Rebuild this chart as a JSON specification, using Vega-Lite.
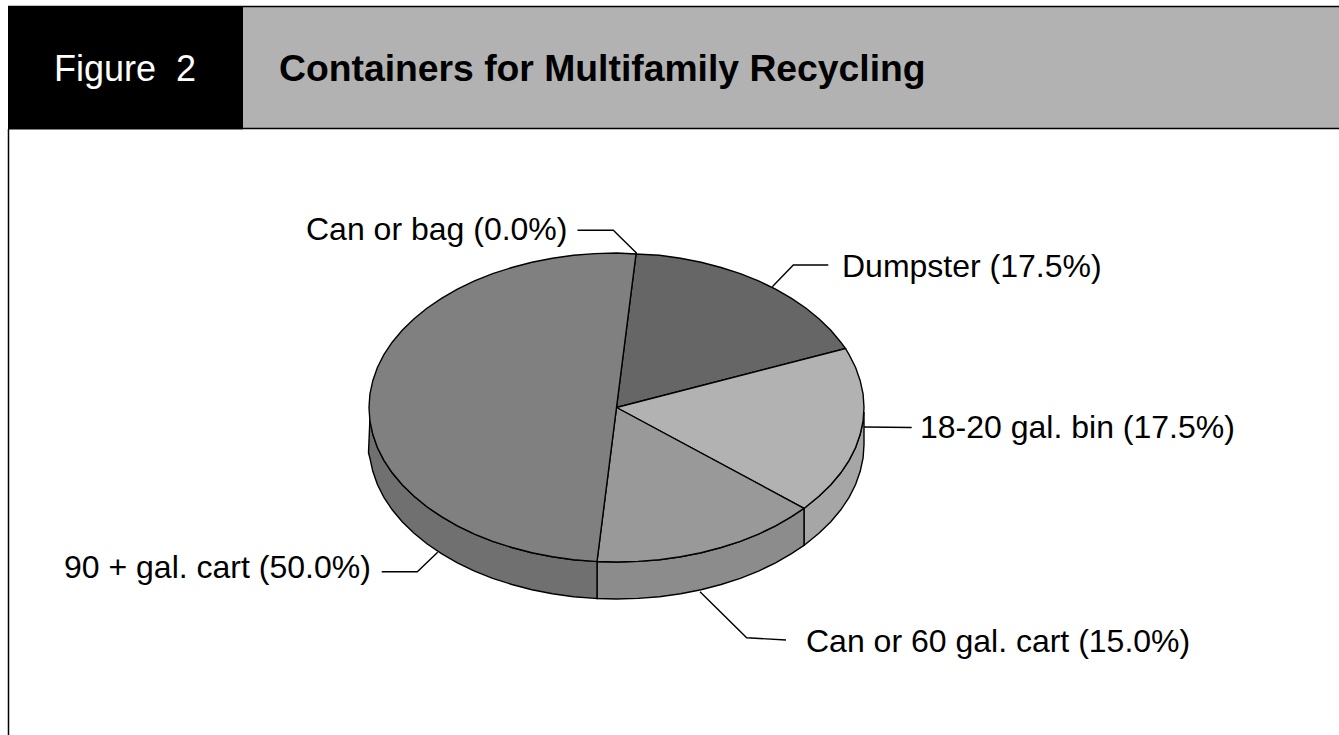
{"$schema":"https://vega.github.io/schema/vega-lite/v6.json","width":1339,"height":735,"autosize":{"type":"none"},"padding":0,"background":"white","view":{"stroke":null},
"datasets":{
"header":[{"part":"figure","x":8,"x2":243,"y":6,"y2":129.5},{"part":"title","x":243,"x2":1339,"y":7,"y2":128}],
"frame":[{"id":"top","x":8,"y":6.5},{"id":"top","x":1339,"y":6.5},{"id":"bottom","x":243,"y":128.5},{"id":"bottom","x":1339,"y":128.5},{"id":"left","x":8.5,"y":129},{"id":"left","x":8.5,"y":735}],
"sides":[
{"part":"bin side","x":864,"y":412},{"part":"bin side","x":863.1,"y":421},{"part":"bin side","x":860.2,"y":434.3},{"part":"bin side","x":855.6,"y":447.5},{"part":"bin side","x":849.1,"y":460.3},{"part":"bin side","x":840.8,"y":472.8},{"part":"bin side","x":830.8,"y":484.8},{"part":"bin side","x":819.2,"y":496.1},{"part":"bin side","x":806.1,"y":506.8},{"part":"bin side","x":804,"y":508.3},{"part":"bin side","x":804,"y":545.3},{"part":"bin side","x":806.1,"y":543.8},{"part":"bin side","x":819.2,"y":533.1},{"part":"bin side","x":830.8,"y":521.8},{"part":"bin side","x":840.8,"y":509.8},{"part":"bin side","x":849.1,"y":497.3},{"part":"bin side","x":855.6,"y":484.5},{"part":"bin side","x":860.2,"y":471.3},{"part":"bin side","x":863.1,"y":458},{"part":"bin side","x":864,"y":444.5},{"part":"bin side","x":864,"y":412},
{"part":"can side","x":804,"y":508.3},{"part":"can side","x":791.5,"y":516.7},{"part":"can side","x":775.6,"y":525.8},{"part":"can side","x":758.5,"y":534.1},{"part":"can side","x":740.3,"y":541.3},{"part":"can side","x":721.1,"y":547.5},{"part":"can side","x":701.1,"y":552.7},{"part":"can side","x":680.6,"y":556.7},{"part":"can side","x":659.5,"y":559.7},{"part":"can side","x":638.1,"y":561.4},{"part":"can side","x":616.5,"y":562},{"part":"can side","x":597,"y":561.5},{"part":"can side","x":597,"y":598.5},{"part":"can side","x":616.5,"y":599},{"part":"can side","x":638.1,"y":598.4},{"part":"can side","x":659.5,"y":596.7},{"part":"can side","x":680.6,"y":593.7},{"part":"can side","x":701.1,"y":589.7},{"part":"can side","x":721.1,"y":584.5},{"part":"can side","x":740.3,"y":578.3},{"part":"can side","x":758.5,"y":571.1},{"part":"can side","x":775.6,"y":562.8},{"part":"can side","x":791.5,"y":553.7},{"part":"can side","x":804,"y":545.3},{"part":"can side","x":804,"y":508.3},
{"part":"cart side","x":597,"y":561.5},{"part":"cart side","x":594.9,"y":561.4},{"part":"cart side","x":573.5,"y":559.7},{"part":"cart side","x":552.4,"y":556.7},{"part":"cart side","x":531.9,"y":552.7},{"part":"cart side","x":511.9,"y":547.5},{"part":"cart side","x":492.7,"y":541.3},{"part":"cart side","x":474.5,"y":534.1},{"part":"cart side","x":457.4,"y":525.8},{"part":"cart side","x":441.5,"y":516.7},{"part":"cart side","x":426.9,"y":506.8},{"part":"cart side","x":413.8,"y":496.1},{"part":"cart side","x":402.2,"y":484.8},{"part":"cart side","x":392.2,"y":472.8},{"part":"cart side","x":383.9,"y":460.3},{"part":"cart side","x":377.4,"y":447.5},{"part":"cart side","x":372.8,"y":434.3},{"part":"cart side","x":370,"y":417},{"part":"cart side","x":368.5,"y":453},{"part":"cart side","x":369.9,"y":458},{"part":"cart side","x":372.8,"y":471.3},{"part":"cart side","x":377.4,"y":484.5},{"part":"cart side","x":383.9,"y":497.3},{"part":"cart side","x":392.2,"y":509.8},{"part":"cart side","x":402.2,"y":521.8},{"part":"cart side","x":413.8,"y":533.1},{"part":"cart side","x":426.9,"y":543.8},{"part":"cart side","x":441.5,"y":553.7},{"part":"cart side","x":457.4,"y":562.8},{"part":"cart side","x":474.5,"y":571.1},{"part":"cart side","x":492.7,"y":578.3},{"part":"cart side","x":511.9,"y":584.5},{"part":"cart side","x":531.9,"y":589.7},{"part":"cart side","x":552.4,"y":593.7},{"part":"cart side","x":573.5,"y":596.7},{"part":"cart side","x":594.9,"y":598.4},{"part":"cart side","x":597,"y":598.5},{"part":"cart side","x":597,"y":561.5}
],
"tops":[
{"part":"Dumpster","x":616.5,"y":407.5},{"part":"Dumpster","x":636,"y":254},{"part":"Dumpster","x":659.5,"y":255.3},{"part":"Dumpster","x":680.6,"y":258.3},{"part":"Dumpster","x":701.1,"y":262.3},{"part":"Dumpster","x":721.1,"y":267.5},{"part":"Dumpster","x":740.3,"y":273.7},{"part":"Dumpster","x":758.5,"y":280.9},{"part":"Dumpster","x":775.6,"y":289.2},{"part":"Dumpster","x":791.5,"y":298.3},{"part":"Dumpster","x":806.1,"y":308.2},{"part":"Dumpster","x":819.2,"y":318.9},{"part":"Dumpster","x":830.8,"y":330.2},{"part":"Dumpster","x":840.8,"y":342.2},{"part":"Dumpster","x":845.5,"y":348.5},{"part":"Dumpster","x":616.5,"y":407.5},
{"part":"18-20 gal. bin","x":616.5,"y":407.5},{"part":"18-20 gal. bin","x":845.5,"y":348.5},{"part":"18-20 gal. bin","x":849.1,"y":354.7},{"part":"18-20 gal. bin","x":855.6,"y":367.5},{"part":"18-20 gal. bin","x":860.2,"y":380.7},{"part":"18-20 gal. bin","x":863.1,"y":394},{"part":"18-20 gal. bin","x":864,"y":407.5},{"part":"18-20 gal. bin","x":863.1,"y":421},{"part":"18-20 gal. bin","x":860.2,"y":434.3},{"part":"18-20 gal. bin","x":855.6,"y":447.5},{"part":"18-20 gal. bin","x":849.1,"y":460.3},{"part":"18-20 gal. bin","x":840.8,"y":472.8},{"part":"18-20 gal. bin","x":830.8,"y":484.8},{"part":"18-20 gal. bin","x":819.2,"y":496.1},{"part":"18-20 gal. bin","x":806.1,"y":506.8},{"part":"18-20 gal. bin","x":804,"y":508.3},{"part":"18-20 gal. bin","x":616.5,"y":407.5},
{"part":"Can or 60 gal. cart","x":616.5,"y":407.5},{"part":"Can or 60 gal. cart","x":804,"y":508.3},{"part":"Can or 60 gal. cart","x":791.5,"y":516.7},{"part":"Can or 60 gal. cart","x":775.6,"y":525.8},{"part":"Can or 60 gal. cart","x":758.5,"y":534.1},{"part":"Can or 60 gal. cart","x":740.3,"y":541.3},{"part":"Can or 60 gal. cart","x":721.1,"y":547.5},{"part":"Can or 60 gal. cart","x":701.1,"y":552.7},{"part":"Can or 60 gal. cart","x":680.6,"y":556.7},{"part":"Can or 60 gal. cart","x":659.5,"y":559.7},{"part":"Can or 60 gal. cart","x":638.1,"y":561.4},{"part":"Can or 60 gal. cart","x":616.5,"y":562},{"part":"Can or 60 gal. cart","x":597,"y":561.5},{"part":"Can or 60 gal. cart","x":616.5,"y":407.5},
{"part":"90 + gal. cart","x":616.5,"y":407.5},{"part":"90 + gal. cart","x":597,"y":561.5},{"part":"90 + gal. cart","x":594.9,"y":561.4},{"part":"90 + gal. cart","x":573.5,"y":559.7},{"part":"90 + gal. cart","x":552.4,"y":556.7},{"part":"90 + gal. cart","x":531.9,"y":552.7},{"part":"90 + gal. cart","x":511.9,"y":547.5},{"part":"90 + gal. cart","x":492.7,"y":541.3},{"part":"90 + gal. cart","x":474.5,"y":534.1},{"part":"90 + gal. cart","x":457.4,"y":525.8},{"part":"90 + gal. cart","x":441.5,"y":516.7},{"part":"90 + gal. cart","x":426.9,"y":506.8},{"part":"90 + gal. cart","x":413.8,"y":496.1},{"part":"90 + gal. cart","x":402.2,"y":484.8},{"part":"90 + gal. cart","x":392.2,"y":472.8},{"part":"90 + gal. cart","x":383.9,"y":460.3},{"part":"90 + gal. cart","x":377.4,"y":447.5},{"part":"90 + gal. cart","x":372.8,"y":434.3},{"part":"90 + gal. cart","x":369.9,"y":421},{"part":"90 + gal. cart","x":369,"y":407.5},{"part":"90 + gal. cart","x":369.9,"y":394},{"part":"90 + gal. cart","x":372.8,"y":380.7},{"part":"90 + gal. cart","x":377.4,"y":367.5},{"part":"90 + gal. cart","x":383.9,"y":354.7},{"part":"90 + gal. cart","x":392.2,"y":342.2},{"part":"90 + gal. cart","x":402.2,"y":330.2},{"part":"90 + gal. cart","x":413.8,"y":318.9},{"part":"90 + gal. cart","x":426.9,"y":308.2},{"part":"90 + gal. cart","x":441.5,"y":298.3},{"part":"90 + gal. cart","x":457.4,"y":289.2},{"part":"90 + gal. cart","x":474.5,"y":280.9},{"part":"90 + gal. cart","x":492.7,"y":273.7},{"part":"90 + gal. cart","x":511.9,"y":267.5},{"part":"90 + gal. cart","x":531.9,"y":262.3},{"part":"90 + gal. cart","x":552.4,"y":258.3},{"part":"90 + gal. cart","x":573.5,"y":255.3},{"part":"90 + gal. cart","x":594.9,"y":253.6},{"part":"90 + gal. cart","x":616.5,"y":253},{"part":"90 + gal. cart","x":636,"y":254},{"part":"90 + gal. cart","x":616.5,"y":407.5}
],
"leaders":[
{"id":"bag","x":577.5,"y":230.3},{"id":"bag","x":613.3,"y":230.3},{"id":"bag","x":636.7,"y":253.3},
{"id":"dumpster","x":828.3,"y":265},{"id":"dumpster","x":793.3,"y":265},{"id":"dumpster","x":772.3,"y":286.7},
{"id":"bin","x":911.7,"y":427.5},{"id":"bin","x":864,"y":427},
{"id":"can","x":786,"y":640},{"id":"can","x":746.7,"y":637.7},{"id":"can","x":700,"y":591.7},
{"id":"cart","x":381.7,"y":571.7},{"id":"cart","x":417.3,"y":571.7},{"id":"cart","x":437.7,"y":552.3}
],
"labels":[
{"text":"Can or bag (0.0%)","x":306,"y":240},
{"text":"Dumpster (17.5%)","x":842,"y":277},
{"text":"18-20 gal. bin (17.5%)","x":920,"y":438},
{"text":"Can or 60 gal. cart (15.0%)","x":806,"y":652},
{"text":"90 + gal. cart (50.0%)","x":64,"y":578}
],
"figure":[{"text":"Figure\u00a0\u00a02","x":54,"y":80.5}],
"title":[{"text":"Containers for Multifamily Recycling","x":279,"y":81}]
},
"layer":[
{"data":{"name":"header"},"mark":{"type":"rect"},"encoding":{"x":{"field":"x","type":"quantitative","scale":{"domain":[0,1339],"nice":false,"zero":false},"axis":null},"x2":{"field":"x2"},"y":{"field":"y","type":"quantitative","scale":{"domain":[735,0],"nice":false,"zero":false},"axis":null},"y2":{"field":"y2"},"fill":{"field":"part","type":"nominal","scale":{"domain":["figure","title"],"range":["#000000","#b2b2b2"]},"legend":null}}},
{"data":{"name":"frame"},"mark":{"type":"line","stroke":"#000000","strokeWidth":1.5},"encoding":{"x":{"field":"x","type":"quantitative","scale":{"domain":[0,1339],"nice":false,"zero":false},"axis":null},"y":{"field":"y","type":"quantitative","scale":{"domain":[735,0],"nice":false,"zero":false},"axis":null},"detail":{"field":"id"},"order":{"field":"y"}}},
{"data":{"name":"sides"},"transform":[{"window":[{"op":"row_number","as":"i"}]}],"mark":{"type":"line","stroke":"#000000","strokeWidth":1.4,"fill":"#888888"},"encoding":{"x":{"field":"x","type":"quantitative","axis":null,"scale":{"domain":[0,1339],"nice":false,"zero":false}},"y":{"field":"y","type":"quantitative","axis":null,"scale":{"domain":[735,0],"nice":false,"zero":false}},"detail":{"field":"part"},"order":{"field":"i"},"fill":{"field":"part","type":"nominal","scale":{"domain":["bin side","can side","cart side"],"range":["#a6a6a6","#8c8c8c","#707070"]},"legend":null}}},
{"data":{"name":"tops"},"transform":[{"window":[{"op":"row_number","as":"i"}]}],"mark":{"type":"line","stroke":"#000000","strokeWidth":1.4,"fill":"#888888"},"encoding":{"x":{"field":"x","type":"quantitative","axis":null,"scale":{"domain":[0,1339],"nice":false,"zero":false}},"y":{"field":"y","type":"quantitative","axis":null,"scale":{"domain":[735,0],"nice":false,"zero":false}},"detail":{"field":"part"},"order":{"field":"i"},"fill":{"field":"part","type":"nominal","scale":{"domain":["Dumpster","18-20 gal. bin","Can or 60 gal. cart","90 + gal. cart"],"range":["#666666","#b2b2b2","#999999","#808080"]},"legend":null}}},
{"data":{"name":"leaders"},"transform":[{"window":[{"op":"row_number","as":"i"}]}],"mark":{"type":"line","stroke":"#000000","strokeWidth":1.4},"encoding":{"x":{"field":"x","type":"quantitative","axis":null,"scale":{"domain":[0,1339],"nice":false,"zero":false}},"y":{"field":"y","type":"quantitative","axis":null,"scale":{"domain":[735,0],"nice":false,"zero":false}},"detail":{"field":"id"},"order":{"field":"i"}}},
{"data":{"name":"labels"},"mark":{"type":"text","align":"left","baseline":"alphabetic","font":"Liberation Sans","fontSize":32,"fill":"#000000"},"encoding":{"x":{"field":"x","type":"quantitative","axis":null,"scale":{"domain":[0,1339],"nice":false,"zero":false}},"y":{"field":"y","type":"quantitative","axis":null,"scale":{"domain":[735,0],"nice":false,"zero":false}},"text":{"field":"text"}}},
{"data":{"name":"figure"},"mark":{"type":"text","align":"left","baseline":"alphabetic","font":"Liberation Sans","fontSize":36,"fill":"#ffffff"},"encoding":{"x":{"field":"x","type":"quantitative","axis":null,"scale":{"domain":[0,1339],"nice":false,"zero":false}},"y":{"field":"y","type":"quantitative","axis":null,"scale":{"domain":[735,0],"nice":false,"zero":false}},"text":{"field":"text"}}},
{"data":{"name":"title"},"mark":{"type":"text","align":"left","baseline":"alphabetic","font":"Liberation Sans","fontSize":37.3,"fontWeight":"bold","fill":"#000000"},"encoding":{"x":{"field":"x","type":"quantitative","axis":null,"scale":{"domain":[0,1339],"nice":false,"zero":false}},"y":{"field":"y","type":"quantitative","axis":null,"scale":{"domain":[735,0],"nice":false,"zero":false}},"text":{"field":"text"}}}
],
"resolve":{"scale":{"fill":"independent"}}
}
